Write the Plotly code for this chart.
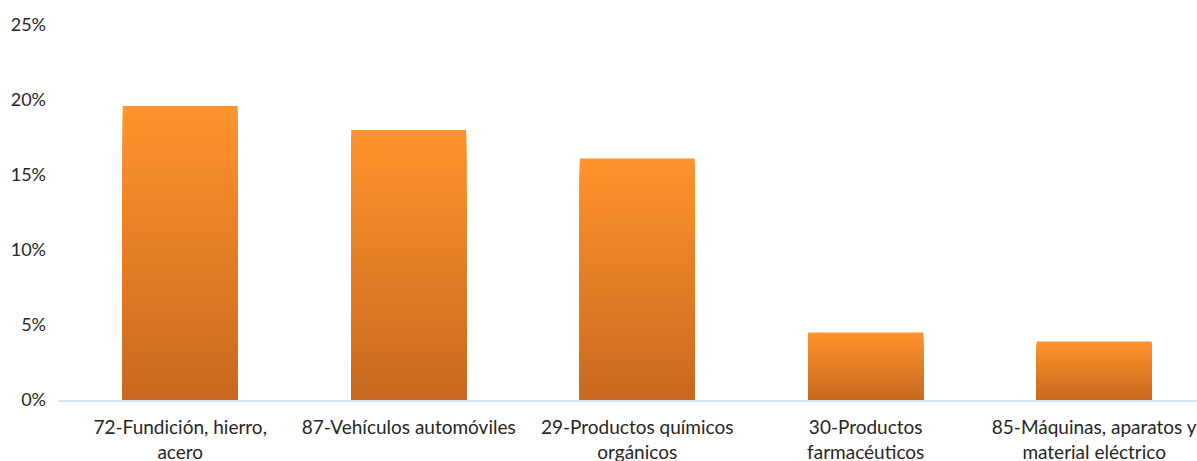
import plotly.graph_objects as go

categories = [
    "72-Fundición, hierro,<br>acero",
    "87-Vehículos automóviles",
    "29-Productos químicos<br>orgánicos",
    "30-Productos<br>farmacéuticos",
    "85-Máquinas, aparatos y<br>material eléctrico",
]
values = [0.196, 0.180, 0.161, 0.045, 0.039]
y_ticks = [0, 0.05, 0.10, 0.15, 0.20, 0.25]

TOP = (255, 147, 44)
BOTTOM = (200, 105, 31)
N = 60


def mix(t):
    r = [round(TOP[i] + (BOTTOM[i] - TOP[i]) * t) for i in range(3)]
    return f"rgb({r[0]},{r[1]},{r[2]})"


fig = go.Figure()
for k in range(N):
    frac = 1 - k / N
    fig.add_trace(go.Bar(
        x=categories,
        y=[v * frac for v in values],
        marker=dict(color=mix(k / (N - 1)), line=dict(width=0)),
        width=0.503,
        hoverinfo="skip" if k else "y",
        showlegend=False,
    ))

fig.update_layout(
    width=1197,
    height=461,
    barmode="overlay",
    plot_bgcolor="white",
    paper_bgcolor="white",
    margin=dict(l=58, r=0, t=25, b=61),
    font=dict(family="Lato, Carlito, Calibri, sans-serif", size=18, color="#262626"),
    xaxis=dict(
        range=[-0.535, 4.45],
        showline=True,
        linecolor="#D5E3F3",
        linewidth=2,
        showgrid=False,
        ticks="",
        ticklabelstandoff=9,
        automargin=False,
        tickfont=dict(size=19),
    ),
    yaxis=dict(
        range=[0, 0.25],
        tickvals=y_ticks,
        tickformat=".0%",
        showgrid=False,
        zeroline=False,
        showline=False,
        ticks="",
        ticklabelstandoff=11,
        automargin=False,
        tickfont=dict(size=18),
    ),
)

fig.write_html(
    "out.html",
    config={"displayModeBar": False},
    post_script="document.body.style.margin='0';document.body.style.overflow='hidden';",
)
